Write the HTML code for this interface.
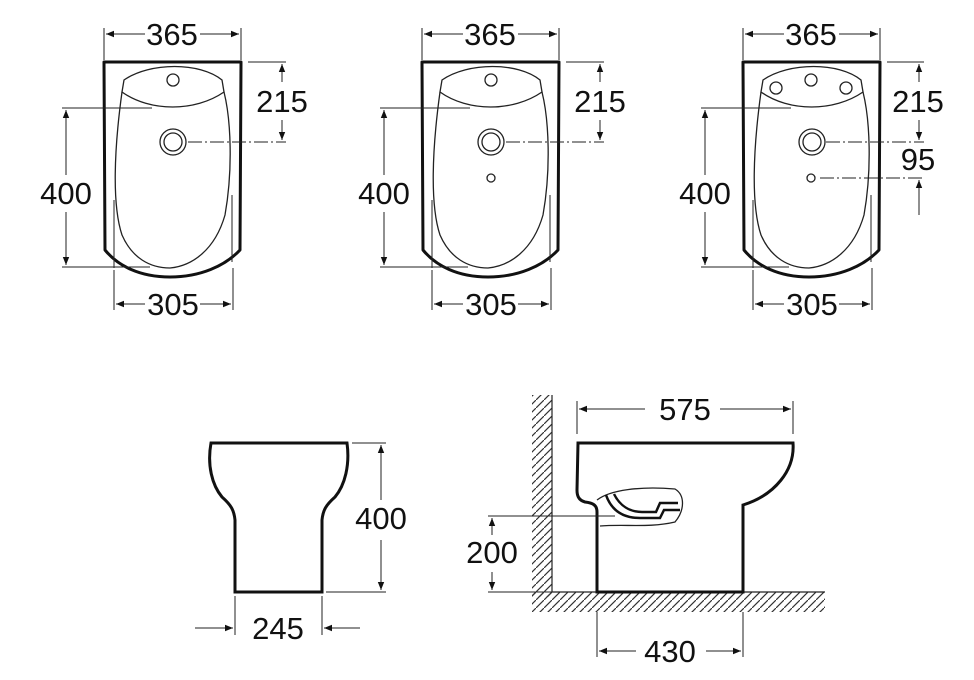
<!DOCTYPE html>
<html><head><meta charset="utf-8"><style>html,body{margin:0;padding:0;background:#fff}svg{display:block}text{font-family:"Liberation Sans",sans-serif;font-size:31px;fill:#111;text-anchor:middle}</style></head>
<body>
<svg width="974" height="680" viewBox="0 0 974 680" xmlns="http://www.w3.org/2000/svg">
<defs>
<marker id="a" viewBox="0 0 10 10" refX="10" refY="5" markerWidth="16" markerHeight="8" orient="auto" markerUnits="userSpaceOnUse"><path d="M0,1 L10,5 L0,9z" fill="#111"/></marker>
<pattern id="h" width="8" height="8" patternUnits="userSpaceOnUse"><path d="M-2,10 L10,-2" stroke="#333" stroke-width="1.2"/></pattern>
<g id="bid">
<path d="M104,62 H241 L240,250 C225,266 200,277 170,277 C140,277 118,266 105,250 Z" fill="none" stroke="#111" stroke-width="3" stroke-linejoin="round"/>
<path d="M124,80 C150,62 200,62 222,80 L224,92 C195,112 150,112 122,92Z" fill="none" stroke="#222" stroke-width="1.3"/>
<path d="M122,92 C114,150 112,205 122,235 C132,258 150,268 170,268 C192,266 215,250 225,215 C233,170 231,120 224,92" fill="none" stroke="#222" stroke-width="1.3"/>
<path d="M114,200 V268 M232,195 V262" stroke="#222" stroke-width="1"/>
<circle cx="173" cy="142" r="13" fill="none" stroke="#222" stroke-width="1.3"/>
<circle cx="173" cy="142" r="9" fill="none" stroke="#222" stroke-width="1.3"/>
<g stroke="#222" stroke-width="1" fill="none">
<path d="M104,28 V60 M241,28 V60"/>
<path d="M145,34 H106" marker-end="url(#a)"/>
<path d="M200,34 H239" marker-end="url(#a)"/>
<path d="M62,108 H152 M62,267 H150"/>
<path d="M66,175 V110" marker-end="url(#a)"/>
<path d="M66,212 V265" marker-end="url(#a)"/>
<path d="M114,270 V310 M233,268 V310"/>
<path d="M145,304 H116" marker-end="url(#a)"/>
<path d="M200,304 H231" marker-end="url(#a)"/>
</g>
</g>
</defs>

<use href="#bid"/>
<use href="#bid" x="318"/>
<use href="#bid" x="639"/>
<circle cx="173" cy="80" r="6" fill="none" stroke="#222" stroke-width="1.3"/>
<circle cx="491" cy="80" r="6" fill="none" stroke="#222" stroke-width="1.3"/>
<circle cx="491" cy="178" r="4" fill="none" stroke="#222" stroke-width="1.3"/>
<circle cx="776" cy="88" r="6" fill="none" stroke="#222" stroke-width="1.3"/>
<circle cx="811" cy="80" r="6" fill="none" stroke="#222" stroke-width="1.3"/>
<circle cx="846" cy="88" r="6" fill="none" stroke="#222" stroke-width="1.3"/>
<circle cx="811" cy="178" r="4" fill="none" stroke="#222" stroke-width="1.3"/>

<g stroke="#222" stroke-width="1" fill="none">
<path d="M248,62 H286 M566,62 H604 M887,62 H924"/>
<path d="M188,142 H286 M506,142 H604 M826,142 H924 M820,178 H924" stroke-dasharray="14,3,2,3"/>
<path d="M282,82 V64" marker-end="url(#a)"/>
<path d="M282,120 V140" marker-end="url(#a)"/>
<path d="M600,82 V64" marker-end="url(#a)"/>
<path d="M600,120 V140" marker-end="url(#a)"/>
<path d="M919,82 V64" marker-end="url(#a)"/>
<path d="M919,120 V140" marker-end="url(#a)"/>
<path d="M919,215 V180" marker-end="url(#a)"/>
</g>

<g>
<text x="172" y="45">365</text><text x="490" y="45">365</text><text x="811" y="45">365</text>
<text x="282" y="112">215</text><text x="600" y="112">215</text><text x="918" y="112">215</text>
<text x="918" y="170">95</text>
<text x="66" y="204">400</text><text x="384" y="204">400</text><text x="705" y="204">400</text>
<text x="173" y="315">305</text><text x="491" y="315">305</text><text x="812" y="315">305</text>
</g>

<!-- front view -->
<path d="M211,443 H347 C350,465 345,485 335,497 C326,505 323,510 322,520 V592 H235 V520 C234,510 231,505 222,497 C212,485 207,465 211,443Z" fill="none" stroke="#111" stroke-width="3"/>
<g stroke="#222" stroke-width="1" fill="none">
<path d="M352,443 H386 M326,592 H386"/>
<path d="M381,500 V445" marker-end="url(#a)"/>
<path d="M381,540 V590" marker-end="url(#a)"/>
<path d="M235,596 V635 M322,596 V635"/>
<path d="M195,628 H233" marker-end="url(#a)"/>
<path d="M360,628 H324" marker-end="url(#a)"/>
</g>
<text x="381" y="529">400</text>
<text x="278" y="639">245</text>

<!-- side view -->
<rect x="532" y="395" width="20" height="202" fill="url(#h)"/>
<rect x="532" y="592" width="293" height="20" fill="url(#h)"/>
<path d="M552,395 V592 H825" fill="none" stroke="#222" stroke-width="1.2"/>
<path d="M578,443 H793 C795,470 775,495 743,505 V592 H597 V512 C597,505 593,503 585,502 C578,500 577,495 577,490Z" fill="#fff" stroke="#111" stroke-width="3"/>
<path d="M597,500 C610,490 640,486 675,489 C685,495 685,510 675,522 C650,528 625,524 600,526" fill="none" stroke="#222" stroke-width="1.3"/>
<path d="M606,495 C612,512 625,518 640,518 H660 L664,510 H680 M614,494 C620,506 630,512 642,512 H656 L660,503 H678" fill="none" stroke="#111" stroke-width="2.5"/>
<g stroke="#222" stroke-width="1" fill="none">
<path d="M577,401 V434 M793,401 V434"/>
<path d="M645,409 H579" marker-end="url(#a)"/>
<path d="M720,409 H791" marker-end="url(#a)"/>
<path d="M488,516 H615 M488,592 H552"/>
<path d="M492,535 V518" marker-end="url(#a)"/>
<path d="M492,572 V590" marker-end="url(#a)"/>
<path d="M597,612 V657 M743,612 V657"/>
<path d="M636,651 H599" marker-end="url(#a)"/>
<path d="M706,651 H741" marker-end="url(#a)"/>
</g>
<text x="685" y="420">575</text>
<text x="492" y="563">200</text>
<text x="670" y="662">430</text>
</svg>
</body></html>
